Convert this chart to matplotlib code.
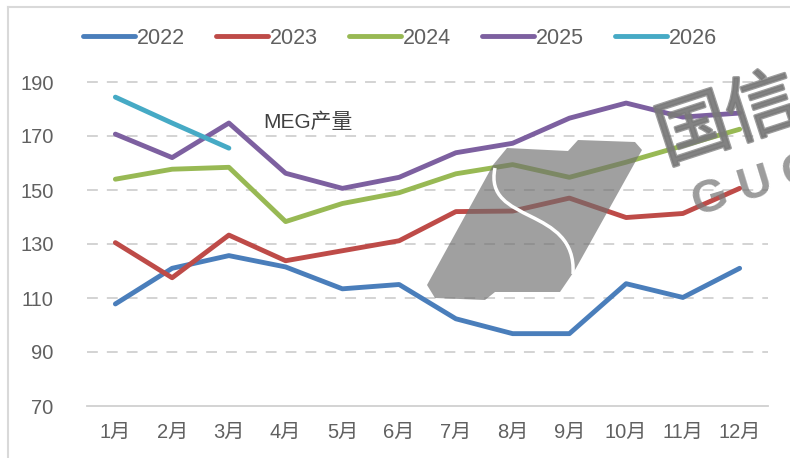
import numpy as np
import matplotlib
matplotlib.use("Agg")
from matplotlib import pyplot as plt
from matplotlib import patheffects as pe
from matplotlib.patches import Polygon, PathPatch
from matplotlib.path import Path
from matplotlib.lines import Line2D

plt.rcParams['font.family'] = ['Liberation Sans', 'Noto Sans CJK SC', 'DejaVu Sans']

months = ['1月', '2月', '3月', '4月', '5月', '6月', '7月', '8月', '9月', '10月', '11月', '12月']
y2022 = [107.8, 121.0, 125.7, 121.5, 113.4, 115.0, 102.3, 96.8, 96.8, 115.3, 110.2, 121.0]
y2023 = [130.5, 117.5, 133.3, 123.8, 127.5, 131.2, 142.0, 142.2, 147.0, 139.8, 141.3, 150.6]
y2024 = [154.0, 157.7, 158.4, 138.3, 145.0, 149.0, 156.0, 159.4, 154.7, 160.3, 166.4, 172.5]
y2025 = [170.7, 162.0, 174.8, 156.2, 150.6, 154.7, 163.8, 167.3, 176.6, 182.2, 177.0, 178.5]
y2026 = [184.4, 174.8, 165.5]

series = [('2022', y2022, '#4A7EBB'),
          ('2023', y2023, '#BE4B48'),
          ('2024', y2024, '#98B954'),
          ('2025', y2025, '#7D60A0'),
          ('2026', y2026, '#46AAC5')]

W, H = 790, 458
fig = plt.figure(figsize=(W / 100, H / 100), dpi=100)
ax = fig.add_axes([87 / W, 1 - 406 / H, (768 - 87) / W, (406 - 82) / H])

x = np.arange(len(months))
for name, vals, col in series:
    ax.plot(x[:len(vals)], vals, color=col, lw=3.5, label=name,
            solid_capstyle='round', solid_joinstyle='round', zorder=3)

ax.set_xlim(-0.5, len(months) - 0.5)
ax.set_ylim(70, 190)
ax.set_yticks(np.arange(70, 191, 20))
ax.set_xticks(x)
ax.set_xticklabels(months)
ax.tick_params(axis='both', length=0, labelsize=14.5, labelcolor='#606060')
ax.tick_params(axis='y', pad=24)
ax.tick_params(axis='x', pad=12)

for v in range(90, 191, 20):
    ax.axhline(v, color='#D0D0D0', lw=1.3, ls=(0, (6, 5)), zorder=1, clip_on=False)
for s in ['top', 'right', 'left']:
    ax.spines[s].set_visible(False)
ax.spines['bottom'].set_color('#D0D0D0')
ax.spines['bottom'].set_linewidth(1.3)

ax.text(0.325, 0.875, 'MEG产量', transform=ax.transAxes, ha='center', va='center',
        fontsize=15, color='#404040', family=['Liberation Sans', 'Noto Sans CJK SC'])

fig.legend(loc='center', bbox_to_anchor=(400 / W, 1 - 38 / H), ncol=5, frameon=False,
           fontsize=15.5, labelcolor='#606060', handlelength=2.4, handletextpad=0.1,
           columnspacing=1.45)

# outer frame
fig.add_artist(Line2D([8 / W, 8 / W], [0, 1 - 7 / H], color='#D9D9D9', lw=1.5,
                      transform=fig.transFigure))
fig.add_artist(Line2D([8 / W, 1], [1 - 7 / H, 1 - 7 / H], color='#D9D9D9', lw=1.5,
                      transform=fig.transFigure))

# watermark
def fp(px, py):
    return (px / W, 1 - py / H)

logo = [(493, 165), (507, 148), (568, 151), (578, 140), (635, 142), (642, 150),
        (575, 270), (560, 292), (495, 292), (485, 300), (435, 298), (427, 285)]
fig.add_artist(Polygon([fp(*p) for p in logo], closed=True, transform=fig.transFigure,
                       facecolor='#6E6E6E', edgecolor='none', alpha=0.65, zorder=5,
                       joinstyle='round'))
curve = Path([fp(495, 168), fp(483, 225), fp(577, 205), fp(573, 274)],
             [Path.MOVETO, Path.CURVE4, Path.CURVE4, Path.CURVE4])
fig.add_artist(PathPatch(curve, transform=fig.transFigure, facecolor='none',
                         edgecolor='white', lw=2.5, zorder=6))

wm = [pe.withStroke(linewidth=2, foreground='#7A7A7A')]
fig.text(666 / W, 1 - 163 / H, '国信', fontsize=52, color='#7A7A7A', alpha=0.75,
         rotation=18, rotation_mode='anchor', ha='left', va='baseline',
         family=['Noto Sans CJK SC'], zorder=5, path_effects=wm)
fig.text(697 / W, 1 - 216 / H, 'G U O', fontsize=33, color='#7A7A7A', alpha=0.75,
         rotation=17, rotation_mode='anchor', ha='left', va='baseline',
         fontweight='bold', zorder=5)

fig.savefig('out.png', dpi=100)
